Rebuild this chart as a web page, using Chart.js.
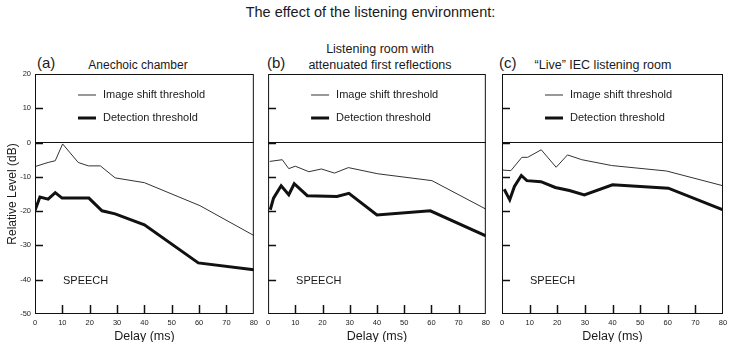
<!DOCTYPE html>
<html>
<head>
<meta charset="utf-8">
<script src="https://cdn.jsdelivr.net/npm/chart.js@4.4.0/dist/chart.umd.min.js"></script>
<style>
  body { margin: 0; background: #fff; font-family: "Liberation Sans", Arial, sans-serif; color: #1a1a1a; }
  #wrap { position: relative; width: 741px; height: 342px; overflow: hidden; }
  .t { position: absolute; white-space: nowrap; line-height: 1; }
  canvas { position: absolute; }
</style>
</head>
<body>
<div id="wrap">
  <div class="t" style="left:0;width:741px;text-align:center;top:5px;font-size:14.5px">The effect of the listening environment:</div>

  <div class="t" style="left:37px;top:55px;font-size:15px">(a)</div>
  <div class="t" style="left:38px;width:200px;text-align:center;top:59px;font-size:12px">Anechoic chamber</div>

  <div class="t" style="left:267px;top:55px;font-size:15px">(b)</div>
  <div class="t" style="left:280px;width:200px;text-align:center;top:43px;font-size:12.5px">Listening room with</div>
  <div class="t" style="left:280px;width:200px;text-align:center;top:59px;font-size:12.5px">attenuated first reflections</div>

  <div class="t" style="left:499px;top:55px;font-size:15px">(c)</div>
  <div class="t" style="left:503px;width:200px;text-align:center;top:59px;font-size:12.5px">“Live” IEC listening room</div>

  <canvas id="chartA" width="262" height="283" style="left:0;top:62px"></canvas>
  <canvas id="chartB" width="232" height="283" style="left:262px;top:62px"></canvas>
  <canvas id="chartC" width="247" height="283" style="left:494px;top:62px"></canvas>
</div>

<script>
// delay (ms) / relative level (dB) for each panel
const delayA_shift = [0, 4.8, 7.4, 10.1, 15.8, 19.5, 23.9, 29.3, 40, 60.3, 80];
const levelA_shift = [-7.0, -5.8, -5.3, -0.4, -5.8, -6.8, -6.8, -10.3, -11.7, -18.4, -27.1];
const delayA_det = [0, 1.8, 4.8, 7.4, 9.9, 19.7, 24.5, 29.3, 40, 59.7, 80];
const levelA_det = [-19.8, -15.9, -16.5, -14.6, -16.2, -16.2, -19.9, -20.8, -24.0, -35.1, -37.1];

const delayB_shift = [0.6, 5.2, 7.6, 10, 15, 19.6, 24.4, 29.5, 40.3, 60.2, 80];
const levelB_shift = [-5.5, -5.0, -7.6, -6.9, -8.5, -7.7, -8.9, -7.3, -9.1, -11.1, -19.4];
const delayB_det = [0.8, 2, 4.8, 7.6, 9.6, 14.4, 25.3, 29.7, 40, 59.6, 80];
const levelB_det = [-19.6, -16.2, -12.6, -15.2, -12.0, -15.5, -15.7, -14.8, -21.1, -19.9, -27.2];

const delayC_shift = [0, 3.2, 7.2, 9.3, 14.2, 19.6, 23.7, 28.9, 39.7, 59.6, 80];
const levelC_shift = [-8.0, -8.2, -4.3, -4.3, -2.1, -7.2, -3.6, -5.0, -6.7, -8.3, -12.6];
const delayC_det = [0.8, 2.8, 4.5, 7, 9, 14.1, 19.3, 24.4, 29.8, 40, 60.2, 80];
const levelC_det = [-13.6, -16.7, -12.8, -9.6, -11.1, -11.4, -13.1, -14.0, -15.3, -12.3, -13.3, -19.6];

const seriesNames = ['Image shift threshold', 'Detection threshold'];
const xTicks = [0, 10, 20, 30, 40, 50, 60, 70, 80];
const yTicks = [-50, -40, -30, -20, -10, 0, 10, 20];

const FONT = '"Liberation Sans", Arial, sans-serif';

const pts = (xs, ys) => xs.map((x, i) => ({ x: x, y: ys[i] }));

// box around the plot, ticks pointing inwards, legend and "SPEECH" note
const framePlugin = {
  id: 'frame',
  afterDatasetsDraw(chart) {
    const { ctx, chartArea: a, scales } = chart;
    ctx.save();
    ctx.strokeStyle = '#111';
    ctx.lineWidth = 1;
    ctx.strokeRect(a.left + 0.5, a.top + 0.5, a.right - a.left - 1, a.bottom - a.top - 1);

    ctx.lineWidth = 1.5;
    ctx.beginPath();
    yTicks.slice(1, -1).forEach(v => {
      const py = Math.round(scales.y.getPixelForValue(v)) + 0.5;
      ctx.moveTo(a.left, py);
      ctx.lineTo(a.left + 8, py);
    });
    xTicks.slice(1, -1).forEach(v => {
      const px = Math.round(scales.x.getPixelForValue(v)) + 0.5;
      ctx.moveTo(px, a.bottom);
      ctx.lineTo(px, a.bottom - 9);
    });
    ctx.stroke();

    // legend
    ctx.font = '11px ' + FONT;
    ctx.fillStyle = '#1a1a1a';
    ctx.textBaseline = 'middle';
    chart.data.datasets.forEach((ds, i) => {
      const y = a.top + 21 + i * 23;
      ctx.strokeStyle = ds.borderColor;
      ctx.lineWidth = ds.borderWidth;
      ctx.beginPath();
      ctx.moveTo(a.left + 43, y);
      ctx.lineTo(a.left + 61, y);
      ctx.stroke();
      ctx.fillText(ds.label, a.left + 68, y);
    });

    ctx.font = '11px ' + FONT;
    ctx.fillText('SPEECH', a.left + 28, scales.y.getPixelForValue(-40.3));
    ctx.restore();
  }
};

function makePanel(id, shift, det, opts) {
  new Chart(document.getElementById(id), {
    type: 'line',
    data: {
      datasets: [
        { label: seriesNames[0], data: shift, borderColor: '#333', borderWidth: 1, pointRadius: 0, tension: 0 },
        { label: seriesNames[1], data: det, borderColor: '#111', borderWidth: 3, pointRadius: 0, tension: 0 }
      ]
    },
    options: {
      responsive: false,
      animation: false,
      layout: { padding: { top: 12, right: opts.padRight, left: 0, bottom: 0 } },
      plugins: { legend: { display: false }, tooltip: { enabled: false } },
      scales: {
        x: {
          type: 'linear', min: 0, max: 80,
          afterBuildTicks: s => { s.ticks = xTicks.map(v => ({ value: v })); },
          afterFit: s => { s.height = 31; },
          grid: { display: false, drawTicks: false },
          border: { display: false },
          ticks: { autoSkip: false, maxRotation: 0, padding: 4, color: '#222', font: { family: FONT, size: 7.5 } },
          title: { display: true, text: 'Delay (ms)', color: '#1a1a1a', padding: { top: 0, bottom: 1 }, font: { family: FONT, size: 12.5 } }
        },
        y: {
          min: -50, max: 20,
          afterBuildTicks: s => { s.ticks = yTicks.map(v => ({ value: v })); },
          afterFit: s => { s.width = opts.yWidth; },
          grid: {
            drawTicks: false,
            color: c => (c.tick && c.tick.value === 0 ? '#111' : 'rgba(0,0,0,0)'),
            lineWidth: 1
          },
          border: { display: false },
          ticks: { display: opts.yLabels, padding: 4, color: '#222', font: { family: FONT, size: 7.5 } },
          title: { display: opts.yLabels, text: 'Relative Level (dB)', color: '#1a1a1a', padding: { top: 5, bottom: 0 }, font: { family: FONT, size: 12 } }
        }
      }
    },
    plugins: [framePlugin]
  });
}

makePanel('chartA', pts(delayA_shift, levelA_shift), pts(delayA_det, levelA_det), { yWidth: 35, padRight: 4, yLabels: true });
makePanel('chartB', pts(delayB_shift, levelB_shift), pts(delayB_det, levelB_det), { yWidth: 6, padRight: 4, yLabels: false });
makePanel('chartC', pts(delayC_shift, levelC_shift), pts(delayC_det, levelC_det), { yWidth: 8, padRight: 18, yLabels: false });
</script>
</body>
</html>
